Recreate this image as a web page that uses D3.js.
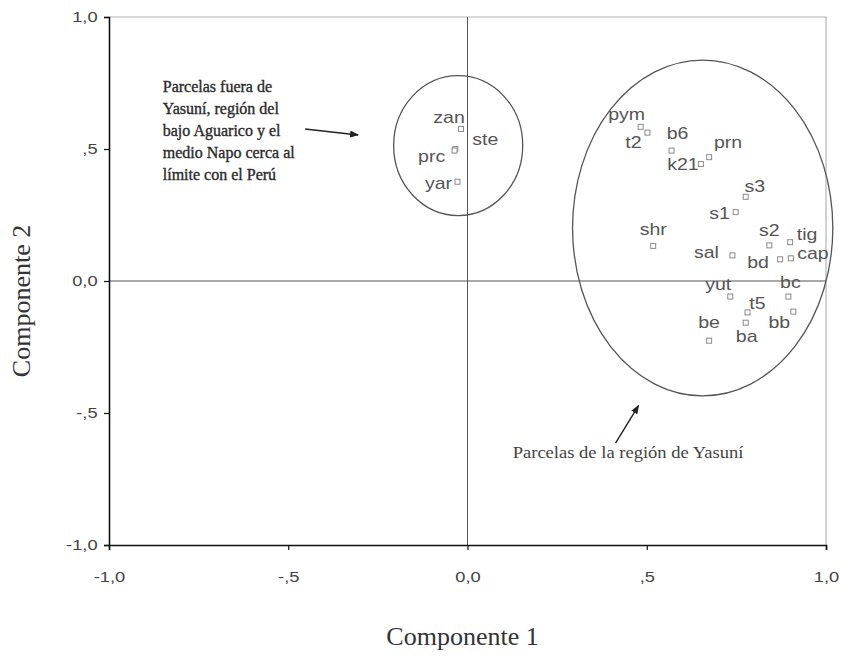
<!DOCTYPE html>
<html>
<head>
<meta charset="utf-8">
<script src="https://cdn.jsdelivr.net/npm/d3@7"></script>
<style>
  body { margin: 0; background: #fff; }
  svg { display: block; }
</style>
</head>
<body>
<svg id="chart" width="844" height="659"></svg>
<script>
// plot codes and their loadings on the two components
const codes = ["zan", "ste", "prc", "yar",
  "pym", "t2", "b6", "k21", "prn", "s3", "s1", "shr", "sal", "s2", "tig", "bd", "cap",
  "yut", "bc", "t5", "bb", "ba", "be"];
const comp1 = [-0.018, -0.034, -0.036, -0.028,
  0.483, 0.502, 0.569, 0.651, 0.674, 0.776, 0.748, 0.518, 0.739, 0.842, 0.900, 0.872, 0.902,
  0.733, 0.895, 0.781, 0.909, 0.776, 0.674];
const comp2 = [0.576, 0.50, 0.494, 0.376,
  0.584, 0.562, 0.494, 0.443, 0.469, 0.319, 0.261, 0.133, 0.097, 0.135, 0.147, 0.082, 0.086,
  -0.059, -0.059, -0.119, -0.116, -0.158, -0.226];

const tickValues = [-1, -0.5, 0, 0.5, 1];
const tickLabels = ["-1,0", "-,5", "0,0", ",5", "1,0"];

// groups drawn as ellipses (data units)
const groupCx = [-0.026, 0.656];
const groupCy = [0.513, 0.201];
const groupRx = [0.18, 0.363];
const groupRy = [0.265, 0.636];

const noteLeft = ["Parcelas fuera de", "Yasuní, región del", "bajo Aguarico y el",
  "medio Napo cerca al", "límite con el Perú"];
const noteRight = "Parcelas de la región de Yasuní";

// label placement, px from marker to label centre
const labelOffset = {
  zan: [-12, -12], ste: [30, -10], prc: [-23, 6], yar: [-19, 1],
  pym: [-14, -13], t2: [-14, 10], b6: [6, -17], k21: [-18, 0], prn: [19, -15],
  s3: [9, -11], s1: [-16, 1], shr: [0, -17], sal: [-26, -3], s2: [0, -15],
  tig: [17, -8], bd: [-22, 3], cap: [22, -5],
  yut: [-12, -12], bc: [2, -14], t5: [10, -9], bb: [-14, 11], ba: [1, 14], be: [0, -18]
};

const layout = {left: 109, right: 826, top: 17, bottom: 545};
const svg = d3.select("#chart");

const x = d3.scaleLinear().domain([-1, 1]).range([layout.left, layout.right]);
const y = d3.scaleLinear().domain([-1, 1]).range([layout.bottom, layout.top]);

const sans = "'Liberation Sans', Arial, sans-serif";
const serif = "'Liberation Serif', 'Times New Roman', serif";
const stretch = 1.22;

// frame: light top/right
svg.append("path")
  .attr("d", `M${x(-1)},${y(1)}H${x(1)}V${y(-1)}`)
  .attr("fill", "none").attr("stroke", "#b5b5b5").attr("stroke-width", 1.2);

// zero reference lines
svg.append("line")
  .attr("x1", x(-1)).attr("x2", x(1)).attr("y1", y(0)).attr("y2", y(0))
  .attr("stroke", "#555").attr("stroke-width", 1);
svg.append("line")
  .attr("x1", x(0)).attr("x2", x(0)).attr("y1", y(1)).attr("y2", y(-1))
  .attr("stroke", "#555").attr("stroke-width", 1);

// axes
const fmt = d => tickLabels[tickValues.indexOf(d)];
const yAxis = svg.append("g")
  .attr("transform", `translate(${layout.left},0)`)
  .call(d3.axisLeft(y).tickValues(tickValues).tickFormat(fmt).tickSize(5).tickPadding(8));
const xAxis = svg.append("g")
  .attr("transform", `translate(0,${layout.bottom})`)
  .call(d3.axisBottom(x).tickValues(tickValues).tickFormat(fmt).tickSize(5).tickPadding(21));

[xAxis, yAxis].forEach(g => {
  g.select(".domain").attr("stroke", "#111").attr("stroke-width", 1.6);
  g.selectAll(".tick line").attr("stroke", "#111").attr("stroke-width", 1.2);
  g.selectAll(".tick text")
    .attr("font-family", sans).attr("font-size", 15).attr("fill", "#444")
    .attr("transform", `scale(${stretch},1)`);
});
yAxis.selectAll(".tick text").attr("x", -9 / stretch - 2);

// ellipses around the groups
svg.append("g").selectAll("ellipse")
  .data(groupCx)
  .join("ellipse")
  .attr("cx", (d, i) => x(d))
  .attr("cy", (d, i) => y(groupCy[i]))
  .attr("rx", (d, i) => x(groupRx[i]) - x(0))
  .attr("ry", (d, i) => y(0) - y(groupRy[i]))
  .attr("fill", "none").attr("stroke", "#555").attr("stroke-width", 1.3);

// markers
svg.append("g").selectAll("rect")
  .data(codes)
  .join("rect")
  .attr("x", (d, i) => x(comp1[i]) - 2.5)
  .attr("y", (d, i) => y(comp2[i]) - 2.5)
  .attr("width", 5).attr("height", 5)
  .attr("fill", "#fff").attr("stroke", "#8a8a8a").attr("stroke-width", 1);

// point labels
svg.append("g").selectAll("text")
  .data(codes)
  .join("text")
  .attr("transform", (d, i) => {
    const o = labelOffset[d];
    return `translate(${x(comp1[i]) + o[0]},${y(comp2[i]) + o[1]}) scale(${stretch},1)`;
  })
  .attr("text-anchor", "middle")
  .attr("dy", "0.36em")
  .attr("font-family", sans).attr("font-size", 16).attr("fill", "#555")
  .text(d => d);

// axis titles
svg.append("text")
  .attr("x", (layout.left + layout.right) / 2 - 5).attr("y", 645)
  .attr("text-anchor", "middle")
  .attr("font-family", serif).attr("font-size", 26).attr("fill", "#333")
  .text("Componente 1");
svg.append("text")
  .attr("transform", `translate(30,${(layout.top + layout.bottom) / 2 + 20}) rotate(-90)`)
  .attr("text-anchor", "middle")
  .attr("font-family", serif).attr("font-size", 26).attr("fill", "#333")
  .text("Componente 2");

// annotations
svg.append("defs").append("marker")
  .attr("id", "head").attr("viewBox", "0 0 10 10")
  .attr("refX", 9).attr("refY", 5)
  .attr("markerWidth", 9).attr("markerHeight", 9)
  .attr("markerUnits", "userSpaceOnUse")
  .attr("orient", "auto")
  .append("path").attr("d", "M0,1L10,5L0,9Z").attr("fill", "#222");

const arrows = [[[-0.453, 0.576], [-0.305, 0.553]], [[0.413, -0.614], [0.477, -0.472]]];
svg.append("g").selectAll("line")
  .data(arrows)
  .join("line")
  .attr("x1", d => x(d[0][0])).attr("y1", d => y(d[0][1]))
  .attr("x2", d => x(d[1][0])).attr("y2", d => y(d[1][1]))
  .attr("stroke", "#222").attr("stroke-width", 1.4)
  .attr("marker-end", "url(#head)");

svg.append("g").selectAll("text")
  .data(noteLeft)
  .join("text")
  .attr("x", x(-0.85))
  .attr("y", (d, i) => y(0.715) + i * 22)
  .attr("font-family", serif).attr("font-size", 16)
  .attr("fill", "#2a2a2a").attr("stroke", "#2a2a2a").attr("stroke-width", 0.35)
  .text(d => d);

svg.append("text")
  .attr("transform", `translate(${x(0.126)},${y(-0.67)}) scale(1.16,1)`)
  .attr("font-family", serif).attr("font-size", 16).attr("fill", "#444")
  .text(noteRight);
</script>
</body>
</html>
